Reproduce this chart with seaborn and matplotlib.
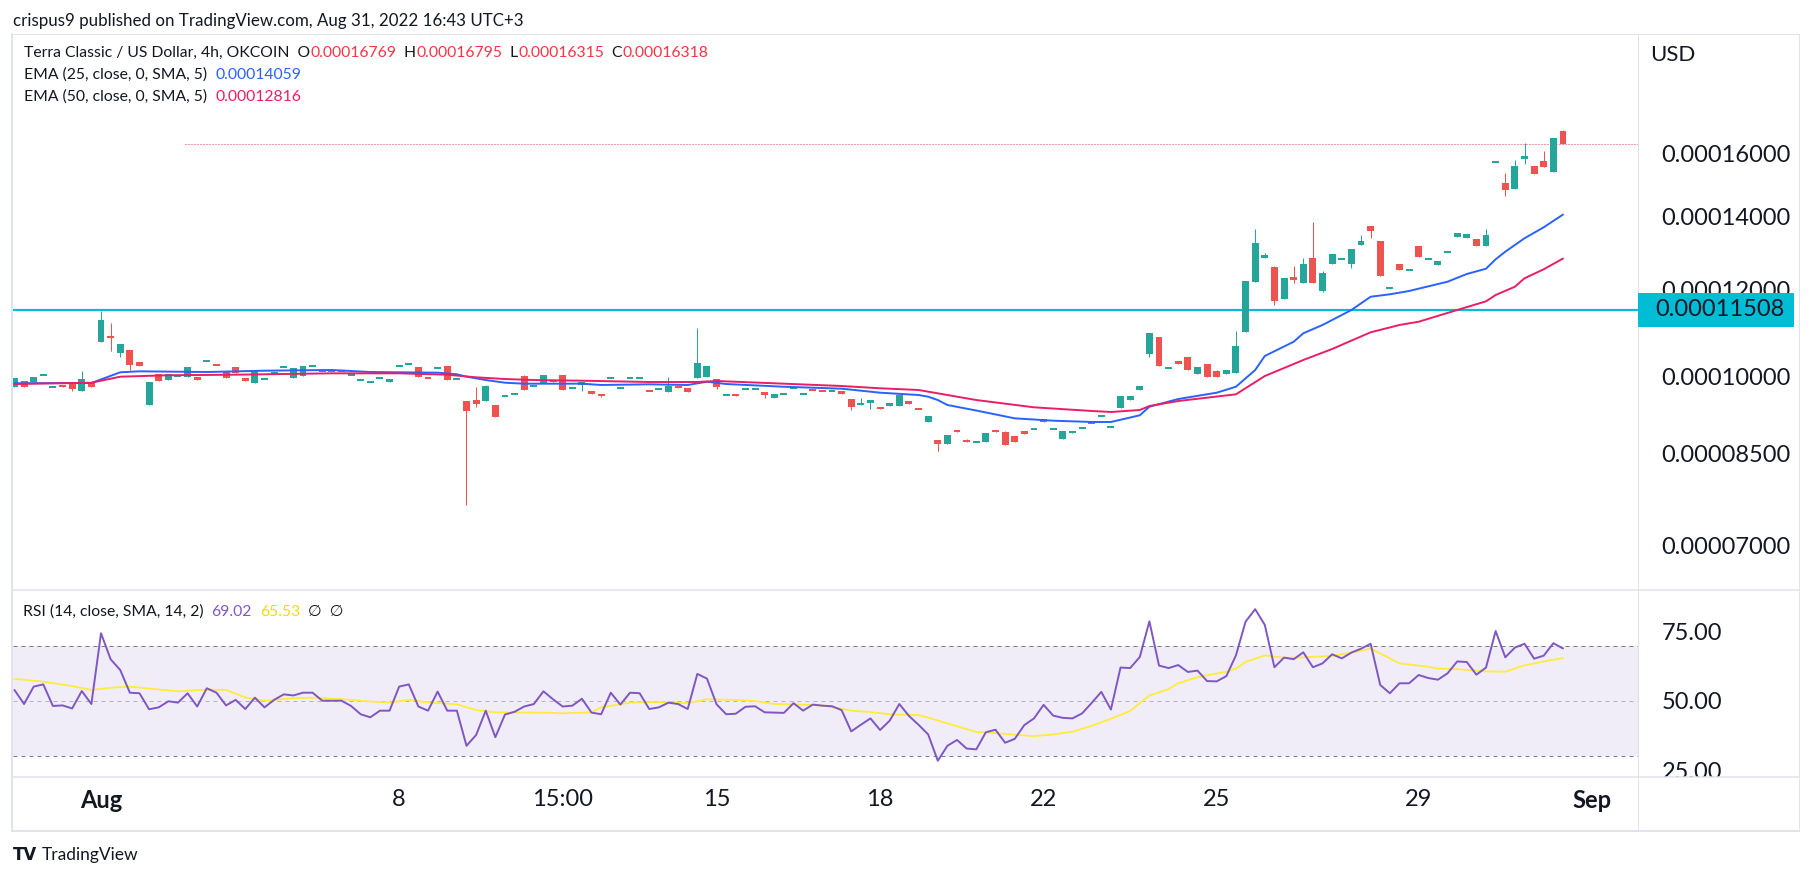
import numpy as np
import matplotlib
matplotlib.use("Agg")
import matplotlib.pyplot as plt
import seaborn as sns
from matplotlib.patches import Rectangle
from matplotlib.lines import Line2D
from matplotlib.ticker import FixedLocator, NullLocator, FuncFormatter
from matplotlib.transforms import Bbox, TransformedBbox

# ---------------- data (prices in units of 1e-8 USD) ----------------
opens = [9779, 9904, 9883, 10024, 9773, 9815, 9835, 9691, 9868, 10757,
         10887, 10512, 10572, 10308, 9416, 10051, 9924, 10008, 9987, 9987,
         10330, 10240, 10114, 10200, 9973, 9862, 9939, 10082, 10193, 9966,
         10008, 10215, 10120, 10120, 10104, 10024, 9918, 9877, 9960, 9883,
         10215, 10257, 10200, 9962, 10172, 10221, 9939, 9495, 9515, 9495,
         9416, 9590, 9630, 10008, 9794, 9856, 9924, 10030, 9753, 9821,
         9697, 9612, 9960, 9753, 9960, 9960, 9693, 9732, 9677, 9800,
         9759, 9966, 9987, 9945, 9610, 9636, 9732, 9732, 9677, 9562,
         9630, 9753, 9630, 9714, 9693, 9693, 9693, 9535, 9416, 9455,
         9376, 9396, 9396, 9495, 9333, 9085, 8747, 8673, 8933, 8747,
         8705, 8703, 8933, 8895, 8820, 8914, 8946, 9142, 8946, 8765,
         8883, 8964, 9060, 9194, 8983, 9362, 9515, 9718, 10483, 10864,
         10172, 10330, 10417, 10058, 10265, 10114, 10041, 10079, 10986, 12206,
         12838, 12590, 11777, 12327, 12183, 12831, 11977, 12677, 12796, 12677,
         13187, 13725, 13299, 12038, 12669, 12503, 13159, 12796, 12644, 12986,
         13419, 13391, 13355, 13168, 15698, 15026, 14846, 15814, 15572, 15738,
         15387, 16769]
highs = [9966, 9904, 9987, 10024, 9773, 9815, 9835, 10114, 9868, 11476,
         11183, 10705, 10572, 10308, 9883, 10051, 10051, 10008, 10200, 9987,
         10330, 10240, 10114, 10200, 9973, 10136, 9939, 10082, 10193, 10178,
         10221, 10215, 10120, 10120, 10104, 10024, 9918, 9877, 9960, 9945,
         10215, 10257, 10200, 9962, 10172, 10221, 9939, 9495, 9785, 9821,
         9416, 9590, 9630, 10030, 9794, 10030, 9924, 10030, 9753, 9883,
         9697, 9612, 9960, 9753, 9960, 9960, 9693, 9732, 9987, 9800,
         9759, 11072, 10221, 9945, 9610, 9636, 9732, 9732, 9677, 9636,
         9630, 9753, 9630, 9714, 9693, 9693, 9693, 9535, 9556, 9515,
         9376, 9455, 9616, 9495, 9333, 9200, 8747, 8839, 8933, 8765,
         8705, 8876, 8933, 8920, 8820, 8914, 8946, 9142, 8946, 8914,
         8914, 8964, 9079, 9194, 8983, 9596, 9590, 9800, 10957, 10864,
         10172, 10330, 10417, 10200, 10265, 10136, 10136, 11003, 12224, 13639,
         12959, 12618, 12301, 12616, 12831, 13842, 12485, 12940, 12796, 13076,
         13467, 13725, 13299, 12038, 12669, 12503, 13159, 12796, 12751, 12986,
         13516, 13488, 13355, 13639, 15698, 15345, 15771, 16338, 15572, 16072,
         16518, 16795]
lows = [9779, 9779, 9883, 10024, 9773, 9779, 9703, 9691, 9786, 10757,
        10556, 10423, 10136, 10229, 9416, 9910, 9924, 10008, 9987, 9924,
        10330, 10234, 9966, 10072, 9910, 9862, 9939, 10082, 10193, 9966,
        10008, 10215, 10120, 10120, 10104, 10024, 9918, 9877, 9960, 9883,
        10215, 10257, 9987, 9958, 10172, 9924, 9939, 7628, 9382, 9495,
        9181, 9590, 9630, 9718, 9794, 9856, 9883, 9718, 9753, 9697,
        9636, 9582, 9960, 9753, 9960, 9960, 9689, 9732, 9677, 9759,
        9677, 9966, 9987, 9738, 9610, 9596, 9732, 9732, 9562, 9562,
        9630, 9753, 9630, 9710, 9689, 9693, 9636, 9317, 9416, 9337,
        9337, 9396, 9396, 9435, 9329, 9085, 8547, 8673, 8895, 8710,
        8705, 8703, 8895, 8660, 8716, 8864, 8946, 9092, 8946, 8765,
        8883, 8964, 9060, 9194, 8983, 9362, 9515, 9718, 10423, 10229,
        10172, 10273, 10142, 10058, 9994, 9994, 10041, 10079, 10986, 12206,
        12838, 11629, 11777, 12165, 12183, 12183, 11945, 12677, 12796, 12564,
        13187, 13391, 12354, 12038, 12511, 12503, 12865, 12796, 12644, 12986,
        13419, 13391, 13168, 13168, 15698, 14627, 14846, 15625, 15323, 15549,
        15387, 16315]
closes = [9966, 9779, 9987, 10024, 9773, 9779, 9745, 9945, 9786, 11261,
          10847, 10705, 10243, 10229, 9883, 9910, 10051, 10008, 10200, 9924,
          10330, 10234, 9966, 10072, 9910, 10136, 9939, 10082, 10193, 10178,
          10221, 10215, 10120, 10120, 10104, 10024, 9918, 9877, 9960, 9945,
          10215, 10257, 9987, 9958, 10172, 9924, 9939, 9298, 9435, 9800,
          9181, 9590, 9630, 9718, 9794, 10030, 9883, 9718, 9753, 9883,
          9636, 9608, 9960, 9753, 9960, 9960, 9689, 9732, 9800, 9759,
          9677, 10286, 10221, 9779, 9610, 9596, 9732, 9732, 9616, 9636,
          9630, 9753, 9630, 9710, 9689, 9693, 9636, 9376, 9455, 9515,
          9337, 9455, 9616, 9435, 9329, 9200, 8673, 8839, 8895, 8710,
          8705, 8876, 8895, 8660, 8716, 8864, 8946, 9092, 8946, 8914,
          8914, 8964, 9079, 9194, 8983, 9596, 9590, 9800, 10957, 10229,
          10172, 10273, 10142, 10200, 9994, 9994, 10136, 10660, 12224, 13243,
          12912, 11727, 12301, 12242, 12669, 12183, 12432, 12940, 12796, 13076,
          13299, 13590, 12354, 12038, 12511, 12503, 12865, 12796, 12751, 12986,
          13516, 13488, 13168, 13467, 15698, 14815, 15572, 15904, 15323, 15549,
          16518, 16318]

ema25_idx = [0, 8, 11, 13, 20, 26, 33, 37, 44, 46, 47, 49, 51, 53, 59, 61, 66, 70, 72, 74,
             80, 86, 90, 94, 95, 96, 97, 100, 104, 108, 112, 114, 117, 118, 121, 125, 127, 129, 130, 133,
             134, 136, 139, 141, 143, 145, 149, 151, 153, 154, 155, 157, 159, 161]
ema25_vals = [9857, 9862, 10087, 10108, 10093, 10121, 10136, 10093, 10079, 10045,
              9994, 9924, 9868, 9848, 9848, 9821, 9835, 9821, 9889, 9841,
              9785, 9745, 9663, 9616, 9582, 9515, 9416, 9307, 9155, 9110,
              9085, 9085, 9214, 9382, 9535, 9663, 9785, 10136, 10439, 10757,
              10950, 11143, 11500, 11826, 11887, 11970, 12206, 12406, 12545, 12796,
              13002, 13375, 13688, 14059]
ema50_idx = [0, 8, 11, 16, 23, 33, 40, 45, 48, 51, 54, 59, 66, 71, 73, 80, 86, 90, 94, 97,
             100, 106, 112, 114, 117, 118, 121, 127, 130, 134, 137, 141, 144, 146, 150, 153, 154, 156,
             157, 159, 161]
ema50_vals = [9841, 9868, 9994, 10024, 10036, 10065, 10065, 10036, 9981, 9945,
              9924, 9910, 9883, 9883, 9904, 9848, 9800, 9753, 9718, 9616,
              9515, 9370, 9298, 9278, 9317, 9396, 9495, 9630, 10008, 10351,
              10594, 10973, 11143, 11220, 11500, 11713, 11869, 12078, 12294, 12530,
              12816]

rsi = [54.0, 48.9, 55.2, 56.0, 48.2, 48.4, 47.3, 53.6, 48.9, 74.5,
       65.1, 61.2, 53.0, 52.8, 47.0, 47.7, 49.9, 49.4, 52.8, 48.0,
       54.6, 53.0, 48.4, 50.4, 47.1, 51.2, 47.7, 50.4, 52.4, 52.0,
       53.0, 53.0, 50.1, 50.1, 50.1, 48.2, 45.2, 44.1, 46.5, 46.5,
       55.2, 56.0, 48.0, 46.5, 53.4, 46.5, 46.5, 33.8, 37.7, 46.5,
       36.9, 45.1, 46.1, 48.0, 48.9, 53.5, 50.6, 48.0, 48.3, 50.8,
       45.8, 45.2, 53.0, 48.7, 53.0, 52.8, 47.1, 47.7, 49.4, 48.9,
       47.1, 59.8, 58.1, 48.8, 45.2, 45.4, 47.9, 48.1, 45.9, 45.8,
       45.7, 49.2, 46.5, 48.7, 48.3, 48.1, 46.7, 39.0, 41.4, 43.7,
       39.5, 42.9, 48.9, 44.6, 41.4, 37.9, 28.4, 33.8, 35.9, 32.8,
       32.5, 38.7, 39.6, 34.9, 36.3, 41.3, 43.7, 48.6, 44.7, 43.9,
       43.7, 45.5, 49.3, 53.3, 46.9, 62.1, 61.9, 65.9, 78.8, 62.8,
       61.9, 63.0, 60.5, 61.0, 57.2, 57.1, 59.0, 66.5, 78.7, 83.2,
       77.5, 62.2, 65.7, 65.1, 67.6, 62.2, 63.6, 66.9, 65.4, 67.5,
       68.9, 70.7, 55.8, 52.8, 56.4, 56.4, 59.4, 58.3, 57.7, 60.0,
       64.3, 64.1, 59.5, 62.1, 75.3, 65.8, 69.3, 70.7, 65.3, 66.4,
       70.9, 69.0]
rsi_ma_idx = [0, 3, 6, 8, 10, 12, 14, 17, 20, 22, 24, 26, 29, 31, 34, 37, 39, 41, 43, 46,
              48, 50, 53, 55, 57, 60, 61, 64, 66, 68, 70, 72, 75, 77, 79, 81, 84, 86, 87, 89,
              91, 94, 95, 97, 100, 102, 104, 106, 108, 110, 112, 114, 116, 118, 120, 121, 123, 126, 127, 128,
              130, 132, 134, 137, 139, 141, 142, 144, 147, 148, 150, 153, 155, 157, 159, 161]
rsi_ma_vals = [58.0, 57.0, 55.4, 54.0, 54.8, 55.2, 54.5, 53.5, 54.1, 54.0,
               51.3, 50.1, 51.0, 51.2, 50.7, 49.8, 49.4, 50.4, 49.5, 48.8,
               46.7, 45.9, 45.8, 45.8, 45.5, 45.9, 47.7, 49.4, 49.6, 49.5,
               49.2, 50.6, 50.4, 50.0, 48.9, 48.8, 48.4, 47.2, 46.5, 46.0,
               45.2, 44.9, 44.0, 41.9, 38.8, 38.4, 37.8, 37.3, 37.9, 38.9,
               41.0, 43.6, 46.4, 52.0, 54.3, 56.4, 58.6, 60.6, 61.7, 64.1,
               66.5, 65.6, 65.8, 66.3, 67.5, 68.9, 67.2, 63.6, 62.4, 61.7,
               61.5, 60.7, 60.6, 62.9, 64.3, 65.5]

support_level = 11508
price_ticks = [7000, 8500, 10000, 12000, 14000, 16000]
rsi_ticks = [25, 50, 75]
time_tick_idx = [9, 40, 57, 73, 90, 107, 125, 146, 164]
time_tick_labels = ["Aug", "8", "15:00", "15", "18", "22", "25", "29", "Sep"]

UNIT = 1e-8

# ---------------- styling / layout ----------------
sns.set_theme(style="white")
plt.rcParams["font.family"] = ["Lato", "DejaVu Sans"]

W, H = 1813, 876
fig = plt.figure(figsize=(W / 100, H / 100), dpi=100)
fig.patch.set_facecolor("white")


def fx(px):
    return px / W


def fy(py):
    return 1 - py / H


TXT = "#131722"
GREEN = "#26A69A"
RED = "#EF5350"
FRAME = "#E0E3EB"
PX = 0.72  # one pixel in points

L_, R_ = 13, 1638
T_, MID, BOT = 34, 590, 777

ax = fig.add_axes([fx(L_), fy(MID), (R_ - L_) / W, (MID - T_) / H])
axr = fig.add_axes([fx(L_), fy(BOT), (R_ - L_) / W, (BOT - MID) / H], sharex=ax)
for a in (ax, axr):
    a.set_facecolor("none")
    for s in a.spines.values():
        s.set_visible(False)

o = np.array(opens) * UNIT
h = np.array(highs) * UNIT
l = np.array(lows) * UNIT
c = np.array(closes) * UNIT
idx = np.arange(len(o))
up = c >= o
cols = np.where(up, GREEN, RED)

# candle bodies (minimum visible thickness for doji candles)
lo = np.minimum(o, c)
hi = np.maximum(o, c)
mid = np.sqrt(lo * hi)
minrel = 1.0042
need = hi / lo < minrel
lo2 = np.where(need, mid / np.sqrt(minrel), lo)
hi2 = np.where(need, mid * np.sqrt(minrel), hi)

ax.set_yscale("log")
ax.vlines(idx, l, h, colors=cols, linewidth=1.0 * PX, zorder=3)
ax.bar(idx, hi2 - lo2, bottom=lo2, width=0.72, color=cols, linewidth=0, zorder=4)

# EMA lines
sns.lineplot(x=np.array(ema25_idx), y=np.array(ema25_vals) * UNIT, ax=ax,
             color="#2962FF", linewidth=1.4, estimator=None, legend=False, zorder=5)
sns.lineplot(x=np.array(ema50_idx), y=np.array(ema50_vals) * UNIT, ax=ax,
             color="#E91E63", linewidth=1.4, estimator=None, legend=False, zorder=5)

# horizontal support line and last-price line
ax.axhline(support_level * UNIT, color="#00BCD4", linewidth=2.2 * PX, zorder=2)
ax.axhline(c[-1], xmin=(185 - L_) / (R_ - L_), xmax=1, color="#F23645",
           linestyle=(0, (1, 2)), linewidth=1.0 * PX, zorder=2)

ax.set_ylim(6.3785e-5, 2.0561e-4)
ax.set_xlim(-0.15, 168.8)
ax.yaxis.set_major_locator(FixedLocator([p * UNIT for p in price_ticks]))
ax.yaxis.set_minor_locator(NullLocator())
ax.yaxis.set_major_formatter(FuncFormatter(lambda v, pos: f"{v:.8f}"))
ax.yaxis.tick_right()
ax.tick_params(axis="y", length=0, pad=17, labelsize=17, labelcolor=TXT)
ax.tick_params(axis="x", length=0, labelbottom=False)
ax.grid(False)

# RSI pane
axr.axhspan(30, 70, color="#7E57C2", alpha=0.1, linewidth=0, zorder=0)
axr.axhline(70, color="#787B86", linestyle=(0, (4, 4)), linewidth=1.0 * PX, zorder=1)
axr.axhline(50, color="#787B86", alpha=0.5, linestyle=(0, (4, 4)), linewidth=1.0 * PX, zorder=1)
axr.axhline(30, color="#787B86", linestyle=(0, (4, 4)), linewidth=1.0 * PX, zorder=1)
sns.lineplot(x=np.array(rsi_ma_idx), y=np.array(rsi_ma_vals), ax=axr,
             color="#FFEB3B", linewidth=1.3, estimator=None, legend=False, zorder=3)
sns.lineplot(x=idx, y=np.array(rsi), ax=axr, color="#7E57C2", linewidth=1.4,
             estimator=None, legend=False, zorder=4)
axr.set_ylim(22.51, 90.14)
axr.yaxis.set_major_locator(FixedLocator(rsi_ticks))
axr.yaxis.set_major_formatter(FuncFormatter(lambda v, pos: f"{v:.2f}"))
axr.yaxis.tick_right()
axr.tick_params(axis="y", length=0, pad=17, labelsize=17, labelcolor=TXT)
axr.set_xticks(time_tick_idx)
axr.set_xticklabels(time_tick_labels)
axr.tick_params(axis="x", length=0, pad=9, labelsize=17, labelcolor=TXT)
for t in axr.get_xticklabels():
    if t.get_text() in ("Aug", "Sep"):
        t.set_fontweight("bold")
axr.set_xlabel("")
axr.set_ylabel("")
ax.set_xlabel("")
ax.set_ylabel("")
axr.grid(False)

# clip RSI scale labels to their pane (the lowest label is cut by the pane edge)
rsi_scale_box = TransformedBbox(Bbox([[fx(R_), fy(BOT)], [fx(1799), fy(MID)]]), fig.transFigure)
for t in axr.get_yticklabels():
    t.set_clip_on(True)
    t.set_clip_box(rsi_scale_box)

# frame lines
def fline(x0, y0, x1, y1, lw=1.0, color=FRAME):
    fig.add_artist(Line2D([fx(x0), fx(x1)], [fy(y0), fy(y1)], transform=fig.transFigure,
                          color=color, linewidth=lw * PX, zorder=20))

fline(12, T_, 1799, T_)
fline(12, T_, 12, 831, lw=2.0)
fline(1799, T_, 1799, 831)
fline(12, 831, 1799, 831, lw=2.0)
fline(R_, T_, R_, 831)
fline(12, MID, 1799, MID, lw=1.5)
fline(12, BOT, 1799, BOT, lw=1.5)

# support label box on price scale
fig.add_artist(Rectangle((fx(R_), fy(327)), (1794 - R_) / W, 34 / H, transform=fig.transFigure,
                         facecolor="#00BCD4", edgecolor="none", zorder=30))
fig.text(fx(1655), fy(310), f"{support_level * UNIT:.8f}", fontsize=17, color=TXT,
         va="center", ha="left", zorder=31)
fig.text(fx(1650), fy(55), "USD", fontsize=16, color=TXT, va="center", ha="left")

# header / legends
fig.text(fx(13), fy(21), "crispus9 published on TradingView.com, Aug 31, 2022 16:43 UTC+3",
         fontsize=12.2, color=TXT, va="center", ha="left")


def chain(parts, x, y, size=11.3):
    prev = fig.text(fx(x), fy(y), parts[0][0], color=parts[0][1], fontsize=size,
                    va="center", ha="left", zorder=25)
    for s, col in parts[1:]:
        prev = ax.annotate(s, xy=(1, 0), xycoords=prev, va="bottom", ha="left",
                           color=col, fontsize=size, annotation_clip=False, zorder=25)


LEG_RED = "#F23645"
chain([("Terra Classic / US Dollar, 4h, OKCOIN  O", TXT), ("0.00016769", LEG_RED),
       ("  H", TXT), ("0.00016795", LEG_RED), ("  L", TXT), ("0.00016315", LEG_RED),
       ("  C", TXT), ("0.00016318", LEG_RED)], 24, 53)
chain([("EMA (25, close, 0, SMA, 5)  ", TXT), ("0.00014059", "#2962FF")], 24, 75)
chain([("EMA (50, close, 0, SMA, 5)  ", TXT), ("0.00012816", "#E91E63")], 24, 97)
chain([("RSI (14, close, SMA, 14, 2)  ", TXT), ("69.02", "#7E57C2"), ("  ", TXT),
       ("65.53", "#F5D90A"), ("  \u2205  \u2205", TXT)], 23, 612)

# TradingView footer
fig.text(fx(13), fy(855), "TV", fontsize=12, fontweight="heavy", color=TXT,
         va="center", ha="left", family="DejaVu Sans")
fig.text(fx(42), fy(855), "TradingView", fontsize=12.5, color=TXT, va="center", ha="left")

fig.savefig("out.png", dpi=100, facecolor="white")
